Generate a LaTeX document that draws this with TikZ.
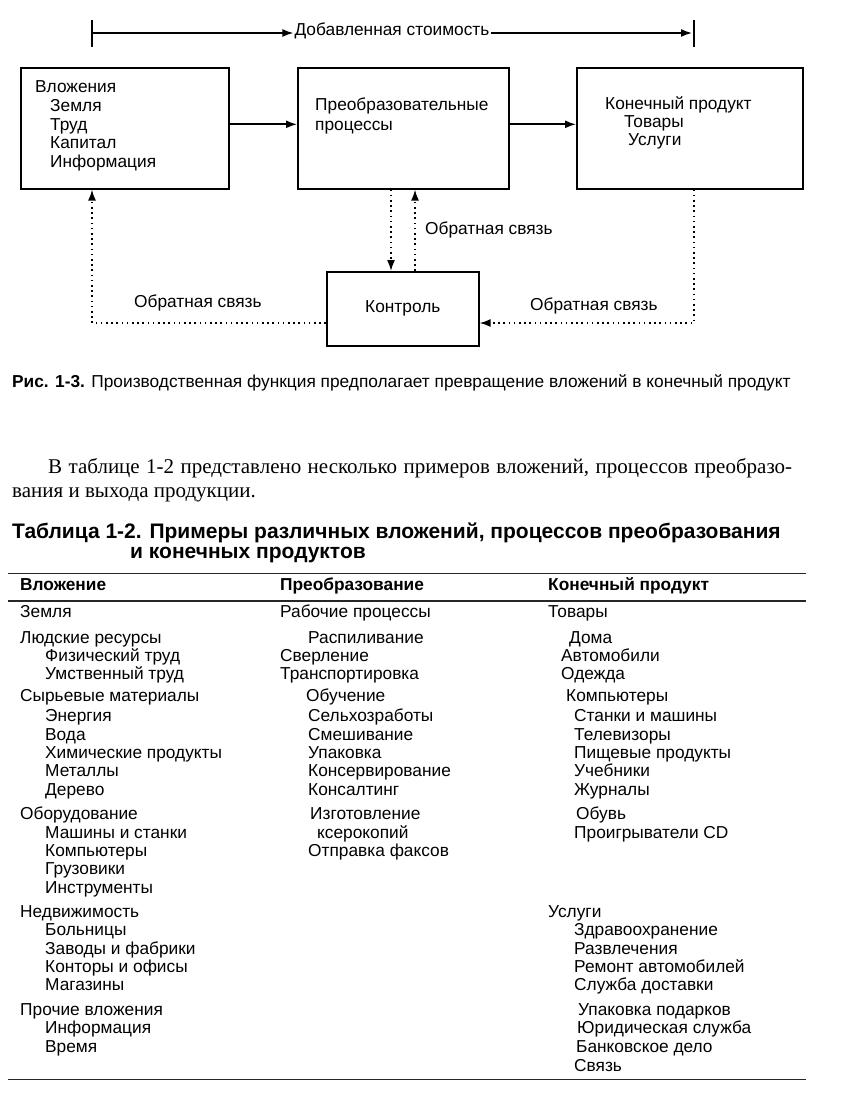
\documentclass[tikz,border=0pt]{standalone}
\usepackage{fontspec}
\setmainfont{Liberation Sans}
\newfontfamily\serifru{Liberation Serif}
\usetikzlibrary{arrows.meta}

\begin{document}
\begin{tikzpicture}[x=1pt,y=-1pt,
  line/.style={draw=black,line width=1.6pt},
  arrow/.style={line,-{Latex[length=11pt,width=8pt]}},
  fb/.style={draw=black,line width=1.6pt,dash pattern=on 1.6pt off 3.6pt,-{Latex[length=11pt,width=8pt]}},
  block/.style={line,anchor=north west,inner sep=0pt},
  label/.style={font=\fontsize{17.3}{18.5}\selectfont,anchor=west,inner sep=0pt,text height=0.75em,text depth=0.2em},
  cell/.style={label},
  head/.style={label,font=\fontsize{17.3}{18.5}\selectfont\bfseries},
  para/.style={label,font=\serifru\fontsize{21}{24}\selectfont},
  tabtitle/.style={label,font=\fontsize{21}{23}\selectfont\bfseries},
  toprule/.style={draw=black!85,line width=0.9pt,double,double distance=0.9pt},
  midrule/.style={draw=black!85,line width=1.3pt},
]
\useasboundingbox[fill=white] (0,0) rectangle (856,1113);

% value added
\coordinate (vaLtop) at (92,20);
\coordinate (vaLbot) at (92,47);
\coordinate (vaRtop) at (694,20);
\coordinate (vaRbot) at (694,47);
\coordinate (vaL) at (92,33);
\coordinate (vaR) at (694,33);
\draw[line] (vaLtop) -- (vaLbot);
\draw[line] (vaRtop) -- (vaRbot);
\node[label,anchor=center,inner sep=1pt] (added) at (392,33) {Добавленная стоимость};
\draw[arrow] (vaL) -- (added.west);
\draw[arrow,shorten >=2pt] (added.east) -- (vaR);

% blocks
\node[block,minimum width=208pt,minimum height=121pt] (inputs) at (20,67) {};
\node[block,minimum width=211pt,minimum height=121pt] (process) at (297,67) {};
\node[block,minimum width=226pt,minimum height=121pt] (output) at (576,67) {};
\node[block,minimum width=152pt,minimum height=74pt,font=\fontsize{17.3}{18.5}\selectfont] (control) at (326,271) {Контроль};

\node[label] (inT) at (35,90) {Вложения};
\foreach \t [count=\i] in {Земля,Труд,Капитал,Информация}
  \node[label] (in\i) at (50,{90.5+18.5*\i}) {\t};
\node[label] (proc1) at (315,108) {Преобразовательные};
\node[label] (proc2) at (315,128) {процессы};
\node[label] (outT) at (605,107) {Конечный продукт};
\node[label] (out1) at (624,125) {Товары};
\node[label] (out2) at (628,143) {Услуги};

\draw[arrow] ([yshift=4pt]inputs.east) -- ([yshift=4pt]process.west);
\draw[arrow] ([yshift=4pt]process.east) -- ([yshift=4pt]output.west);

% feedback
\coordinate (fbDown) at (391,0);
\coordinate (fbUp) at (415,0);
\coordinate (fbL) at (92,323);
\coordinate (fbR) at (694,323);
\draw[fb] (fbDown |- process.south) -- (fbDown |- control.north);
\draw[fb] (fbUp |- control.north) -- (fbUp |- process.south);
\draw[fb] (control.west |- fbL) -- (fbL) -- (fbL |- inputs.south);
\draw[fb] (fbR |- output.south) -- (fbR) -- (control.east |- fbR);
\node[label] (fbMid) at (425,232) {Обратная связь};
\node[label] (fbLeft) at (134,305) {Обратная связь};
\node[label] (fbRight) at (530,308) {Обратная связь};

% caption and text
\node[label] (caption) at (12,385) {\textbf{Рис. 1-3.} Производственная функция предполагает превращение вложений в конечный продукт};
\node[para] (par1) at (48,471) {\makebox[744pt][s]{В таблице 1-2 представлено несколько примеров вложений, процессов преобразо-}};
\node[para] (par2) at (12,495) {вания и выхода продукции.};
\node[tabtitle] (tab1) at (12,536) {Таблица 1-2. Примеры различных вложений, процессов преобразования};
\node[tabtitle] (tab2) at (130,556) {и конечных продуктов};

% table
\draw[toprule] (8,574) -- (806,574);
\node[head] (hIn) at (20,588) {Вложение};
\node[head] (hProc) at (280,588) {Преобразование};
\node[head] (hOut) at (548,588) {Конечный продукт};
\draw[midrule] (8,601) -- (806,601);

\foreach \y/\t [count=\i] in {615/Земля,641/Людские ресурсы,699/Сырьевые материалы,817/Оборудование,915/Недвижимость,1013/Прочие вложения}
  \node[cell] (inMain\i) at (20,\y) {\t};
\foreach \y/\t [count=\i] in {659/Физический труд,677/Умственный труд,719/Энергия,738/Вода,756/Химические продукты,774/Металлы,793/Дерево,836/Машины и станки,854/Компьютеры,872/Грузовики,891/Инструменты,933/Больницы,952/Заводы и фабрики,970/Конторы и офисы,988/Магазины,1031/Информация,1050/Время}
  \node[cell] (inSub\i) at (45,\y) {\t};
\foreach \x/\y/\t [count=\i] in {280/615/Рабочие процессы,308/641/Распиливание,280/659/Сверление,280/677/Транспортировка,306/699/Обучение,308/719/Сельхозработы,308/738/Смешивание,308/756/Упаковка,308/774/Консервирование,308/793/Консалтинг,310/817/Изготовление,317/836/ксерокопий,308/854/Отправка факсов}
  \node[cell] (proc\i) at (\x,\y) {\t};
\foreach \x/\y/\t [count=\i] in {548/615/Товары,569/641/Дома,561/659/Автомобили,561/677/Одежда,566/699/Компьютеры,574/719/Станки и машины,574/738/Телевизоры,574/756/Пищевые продукты,574/774/Учебники,574/793/Журналы,576/817/Обувь,574/836/Проигрыватели CD,548/915/Услуги,574/933/Здравоохранение,574/952/Развлечения,574/970/Ремонт автомобилей,574/988/Служба доставки,578/1013/Упаковка подарков,577/1031/Юридическая служба,576/1050/Банковское дело,574/1069/Связь}
  \node[cell] (prod\i) at (\x,\y) {\t};

\draw[toprule] (8,1080) -- (806,1080);
\end{tikzpicture}
\end{document}
